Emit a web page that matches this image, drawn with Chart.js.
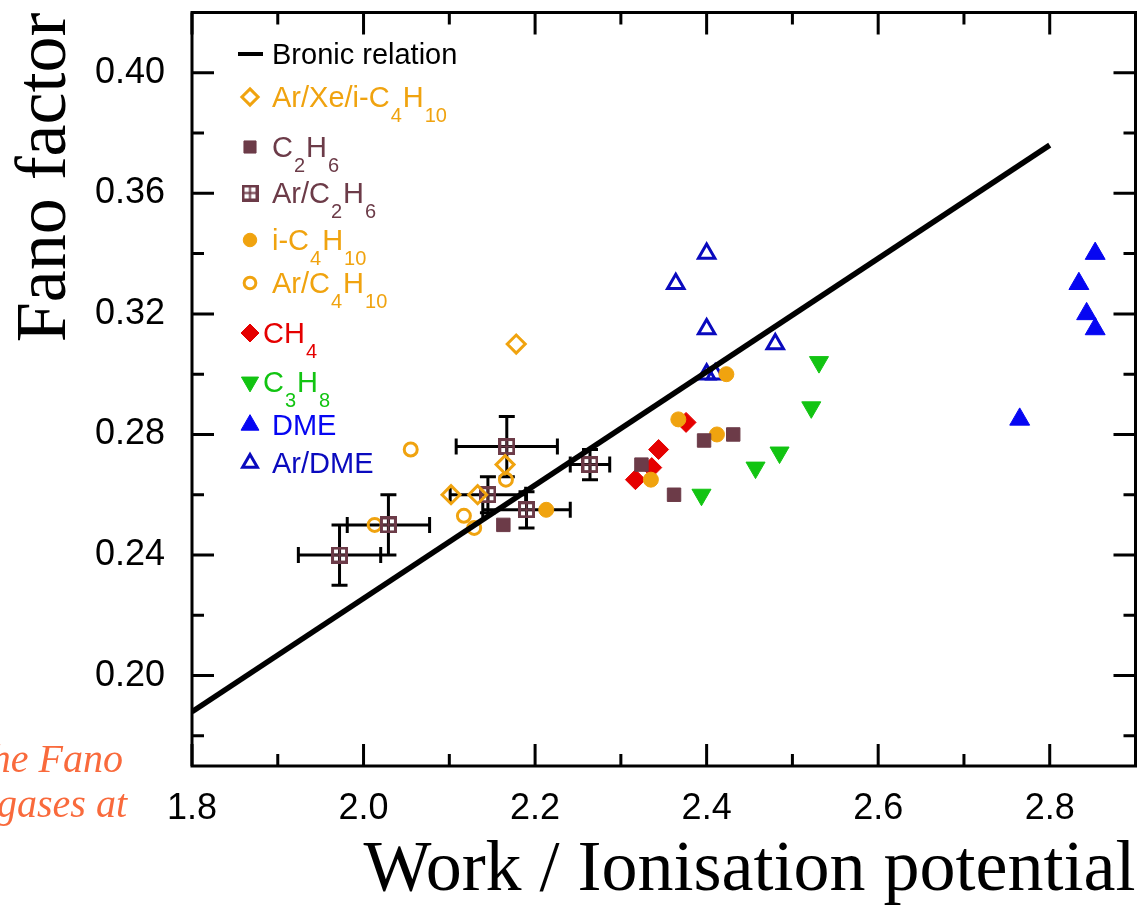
<!DOCTYPE html>
<html>
<head>
<meta charset="utf-8">
<script src="https://cdn.jsdelivr.net/npm/chart.js@4"></script>
<style>
  html, body { margin: 0; padding: 0; background: #fff; }
  #wrap { position: relative; width: 1148px; height: 908px; overflow: hidden; }
</style>
</head>
<body>
<div id="wrap"><canvas id="fanoChart" width="1148" height="908"></canvas></div>
<script>
// tick labels
const xTicks = [1.8, 2.0, 2.2, 2.4, 2.6, 2.8];
const yTicks = [0.20, 0.24, 0.28, 0.32, 0.36, 0.40];

// Bronic relation (straight line)
const bronicX = [1.8, 2.8];
const bronicY = [0.188, 0.376];

// Ar/Xe/i-C4H10
const arXeX = [2.178, 2.165, 2.102, 2.133];
const arXeY = [0.310, 0.270, 0.260, 0.260];

// C2H6
const c2h6X = [2.163, 2.397, 2.431, 2.324, 2.362];
const c2h6Y = [0.250, 0.278, 0.280, 0.270, 0.260];

// Ar/C2H6 (with error bars)
const arC2h6X = [1.972, 2.029, 2.167, 2.145, 2.190, 2.264];
const arC2h6Y = [0.240, 0.250, 0.276, 0.260, 0.255, 0.270];
const arC2h6XErr = [0.048, 0.048, 0.059, 0.044, 0.051, 0.023];
const arC2h6YErr = [0.010, 0.010, 0.010, 0.006, 0.006, 0.005];

// i-C4H10
const iC4h10X = [2.213, 2.367, 2.412, 2.335, 2.423];
const iC4h10Y = [0.255, 0.285, 0.280, 0.265, 0.300];

// Ar/C4H10
const arC4h10X = [2.055, 2.166, 2.117, 2.129, 2.013];
const arC4h10Y = [0.275, 0.265, 0.253, 0.249, 0.250];

// CH4
const ch4X = [2.376, 2.344, 2.336, 2.317];
const ch4Y = [0.284, 0.275, 0.269, 0.265];

// C3H8
const c3h8X = [2.394, 2.457, 2.485, 2.522, 2.531];
const c3h8Y = [0.260, 0.269, 0.274, 0.289, 0.304];

// DME
const dmeX = [2.765, 2.853, 2.834, 2.843, 2.853];
const dmeY = [0.285, 0.340, 0.330, 0.320, 0.315];

// Ar/DME
const arDmeX = [2.400, 2.364, 2.400, 2.480, 2.400, 2.410];
const arDmeY = [0.340, 0.330, 0.315, 0.310, 0.300, 0.300];

const ORANGE = '#F0A30F';
const MAROON = '#6C3B48';
const RED = '#E50000';
const GREEN = '#12C412';
const BLUE = '#0606F2';
const NAVY = '#0A0ABE';
const CORAL = '#F96A3C';

function pts(xs, ys) {
    return xs.map((x, i) => ({ x: x, y: ys[i] }));
}

// boxed plus marker for Ar/C2H6
function makeBoxPlus(size, color) {
    const c = document.createElement('canvas');
    c.width = size;
    c.height = size;
    const g = c.getContext('2d');
    g.strokeStyle = color;
    g.lineWidth = 3;
    const m = 1.5;
    g.strokeRect(m, m, size - 2 * m, size - 2 * m);
    g.lineWidth = 2;
    g.beginPath();
    g.moveTo(size / 2, m); g.lineTo(size / 2, size - m);
    g.moveTo(m, size / 2); g.lineTo(size - m, size / 2);
    g.stroke();
    return c;
}
const boxPlus = makeBoxPlus(17, MAROON);

function markerSet(label, xs, ys, style, radius, color, filled, extra) {
    return Object.assign({
        label: label,
        data: pts(xs, ys),
        pointStyle: style,
        pointRadius: radius,
        pointHoverRadius: radius,
        pointBorderWidth: filled ? 1 : 3,
        pointBorderColor: color,
        pointBackgroundColor: filled ? color : 'transparent',
        textColor: color,
        order: 1
    }, extra || {});
}

const datasets = [
    { label: 'Bronic relation', data: pts(bronicX, bronicY), showLine: true,
      borderColor: '#000', borderWidth: 5.5, pointRadius: 0, textColor: '#000', order: 0 },
    markerSet('Ar/Xe/i-C_4H_10', arXeX, arXeY, 'rectRot', 9, ORANGE, false),
    markerSet('C_2H_6', c2h6X, c2h6Y, 'rect', 9.5, MAROON, true),
    markerSet('Ar/C_2H_6', arC2h6X, arC2h6Y, boxPlus, 8, MAROON, false,
        { xErr: arC2h6XErr, yErr: arC2h6YErr }),
    markerSet('i-C_4H_10', iC4h10X, iC4h10Y, 'circle', 7.5, ORANGE, true),
    markerSet('Ar/C_4H_10', arC4h10X, arC4h10Y, 'circle', 6.5, ORANGE, false),
    markerSet('CH_4', ch4X, ch4Y, 'rectRot', 10, RED, true, { legendTight: true }),
    markerSet('C_3H_8', c3h8X, c3h8Y, 'triangle', 11, GREEN, true, { pointRotation: 180, legendTight: true }),
    markerSet('DME', dmeX, dmeY, 'triangle', 11.5, BLUE, true),
    markerSet('Ar/DME', arDmeX, arDmeY, 'triangle', 9.5, NAVY, false)
];

// error bars under the markers
const errorBarPlugin = {
    id: 'errorBars',
    beforeDatasetsDraw(chart) {
        const { ctx, scales: { x, y } } = chart;
        chart.data.datasets.forEach(ds => {
            if (!ds.xErr) return;
            ctx.save();
            ctx.strokeStyle = '#000';
            ctx.lineWidth = 3;
            const cap = 8;
            ds.data.forEach((p, i) => {
                const px = x.getPixelForValue(p.x);
                const py = y.getPixelForValue(p.y);
                const x0 = x.getPixelForValue(p.x - ds.xErr[i]);
                const x1 = x.getPixelForValue(p.x + ds.xErr[i]);
                const y0 = y.getPixelForValue(p.y - ds.yErr[i]);
                const y1 = y.getPixelForValue(p.y + ds.yErr[i]);
                ctx.beginPath();
                ctx.moveTo(x0, py); ctx.lineTo(x1, py);
                ctx.moveTo(x0, py - cap); ctx.lineTo(x0, py + cap);
                ctx.moveTo(x1, py - cap); ctx.lineTo(x1, py + cap);
                ctx.moveTo(px, y0); ctx.lineTo(px, y1);
                ctx.moveTo(px - cap, y0); ctx.lineTo(px + cap, y0);
                ctx.moveTo(px - cap, y1); ctx.lineTo(px + cap, y1);
                ctx.stroke();
            });
            ctx.restore();
        });
    }
};

// frame with inward ticks on all four sides
const framePlugin = {
    id: 'frameTicks',
    afterDatasetsDraw(chart) {
        const { ctx, chartArea: a, scales: { x, y } } = chart;
        const mids = (t) => t.slice(0, -1).map((v, i) => (v + t[i + 1]) / 2);
        const xMinor = mids(xTicks);
        const yMinor = [yTicks[0] - (yTicks[1] - yTicks[0]) / 2].concat(mids(yTicks));
        ctx.save();
        ctx.strokeStyle = '#000';
        ctx.lineWidth = 3;
        ctx.strokeRect(a.left, a.top, a.right - a.left, a.bottom - a.top);
        ctx.beginPath();
        const xt = (v, len) => {
            const px = x.getPixelForValue(v);
            ctx.moveTo(px, a.bottom); ctx.lineTo(px, a.bottom - len);
            ctx.moveTo(px, a.top); ctx.lineTo(px, a.top + len);
        };
        const yt = (v, len) => {
            const py = y.getPixelForValue(v);
            ctx.moveTo(a.left, py); ctx.lineTo(a.left + len, py);
            ctx.moveTo(a.right, py); ctx.lineTo(a.right - len, py);
        };
        xTicks.forEach(v => xt(v, 22));
        xMinor.forEach(v => xt(v, 12));
        yTicks.forEach(v => yt(v, 22));
        yMinor.forEach(v => yt(v, 12));
        ctx.stroke();
        ctx.restore();
    }
};

function drawMarker(ctx, ds, x, y, scale) {
    const style = ds.pointStyle;
    if (typeof style === 'object') {
        ctx.drawImage(style, x - style.width / 2, y - style.height / 2);
        return;
    }
    const r = ds.pointRadius * scale;
    ctx.beginPath();
    if (style === 'circle') {
        ctx.arc(x, y, r, 0, Math.PI * 2);
    } else if (style === 'rect') {
        const s = r * Math.SQRT1_2;
        ctx.rect(x - s, y - s, 2 * s, 2 * s);
    } else if (style === 'rectRot') {
        ctx.moveTo(x, y - r); ctx.lineTo(x + r, y); ctx.lineTo(x, y + r); ctx.lineTo(x - r, y);
        ctx.closePath();
    } else if (style === 'triangle') {
        let rad = (ds.pointRotation || 0) * Math.PI / 180;
        ctx.moveTo(x + Math.sin(rad) * r, y - Math.cos(rad) * r);
        for (let k = 0; k < 2; k++) {
            rad += Math.PI * 2 / 3;
            ctx.lineTo(x + Math.sin(rad) * r, y - Math.cos(rad) * r);
        }
        ctx.closePath();
    }
    ctx.fillStyle = ds.pointBackgroundColor;
    ctx.fill();
    ctx.lineWidth = ds.pointBorderWidth;
    ctx.strokeStyle = ds.pointBorderColor;
    ctx.stroke();
}

// label with subscripts: "C_4H_10"
function drawRichLabel(ctx, text, x, y, color) {
    const parts = text.split(/_(\d+)/);
    ctx.fillStyle = color;
    ctx.textAlign = 'left';
    ctx.textBaseline = 'alphabetic';
    parts.forEach((p, k) => {
        if (!p) return;
        if (k % 2 === 0) {
            ctx.font = '29px "Liberation Sans", Arial, sans-serif';
            ctx.fillText(p, x, y);
        } else {
            ctx.font = '20px "Liberation Sans", Arial, sans-serif';
            ctx.fillText(p, x + 1, y + 15);
        }
        x += ctx.measureText(p).width + (k % 2 ? 2 : 0);
    });
}

const legendPlugin = {
    id: 'fanoLegend',
    afterDraw(chart) {
        const ctx = chart.ctx;
        const rows = [64, 107, 157, 203, 250, 293, 343, 392, 435, 473];
        ctx.save();
        chart.data.datasets.forEach((ds, i) => {
            const base = rows[i];
            const my = base - 10;
            if (ds.showLine) {
                ctx.strokeStyle = ds.borderColor;
                ctx.lineWidth = 4;
                ctx.beginPath();
                ctx.moveTo(238, my); ctx.lineTo(263, my);
                ctx.stroke();
            } else {
                drawMarker(ctx, ds, 250, my, 0.9);
            }
            drawRichLabel(ctx, ds.label, ds.legendTight ? 263 : 272, base, ds.textColor);
        });

        // slide text cut by the left edge
        ctx.font = 'italic 40px "Liberation Serif", "Times New Roman", serif';
        ctx.fillStyle = CORAL;
        ctx.textAlign = 'right';
        ctx.textBaseline = 'alphabetic';
        ctx.fillText('the Fano', 123, 772);
        ctx.fillText('gases at', 127, 817);
        ctx.restore();
    }
};

const tickFont = { family: '"Liberation Sans", Arial, sans-serif', size: 36 };
const titleFont = { family: '"Liberation Serif", "Times New Roman", serif', size: 72, lineHeight: 1 };

new Chart(document.getElementById('fanoChart'), {
    type: 'scatter',
    data: { datasets: datasets },
    options: {
        responsive: false,
        animation: false,
        events: [],
        layout: { padding: { top: 11, right: 10, left: 0, bottom: 0 } },
        plugins: {
            legend: { display: false },
            tooltip: { enabled: false }
        },
        scales: {
            x: {
                type: 'linear',
                min: 1.8,
                max: 2.9,
                grid: { display: false, drawTicks: false },
                border: { display: false },
                afterBuildTicks: (scale) => { scale.ticks = xTicks.map(v => ({ value: v })); },
                afterFit: (scale) => {
                    scale.height = 142;
                    scale.paddingLeft = 0;
                    scale.paddingRight = 0;
                },
                ticks: {
                    autoSkip: false,
                    maxRotation: 0,
                    padding: 21,
                    color: '#000',
                    font: tickFont,
                    callback: (v) => Number(v).toFixed(1)
                },
                title: {
                    display: true,
                    text: 'Work / Ionisation potential',
                    align: 'end',
                    color: '#000',
                    font: titleFont,
                    padding: { top: 0, bottom: 1 }
                }
            },
            y: {
                type: 'linear',
                min: 0.17,
                max: 0.42,
                grid: { display: false, drawTicks: false },
                border: { display: false },
                afterBuildTicks: (scale) => { scale.ticks = yTicks.map(v => ({ value: v })); },
                afterFit: (scale) => {
                    scale.width = 192;
                    scale.paddingTop = 0;
                    scale.paddingBottom = 0;
                },
                ticks: {
                    autoSkip: false,
                    padding: 27,
                    color: '#000',
                    font: tickFont,
                    callback: (v) => Number(v).toFixed(2)
                },
                title: {
                    display: true,
                    text: 'Fano factor',
                    align: 'end',
                    color: '#000',
                    font: titleFont,
                    padding: { top: 10, bottom: 0 }
                }
            }
        }
    },
    plugins: [errorBarPlugin, framePlugin, legendPlugin]
});
</script>
</body>
</html>
